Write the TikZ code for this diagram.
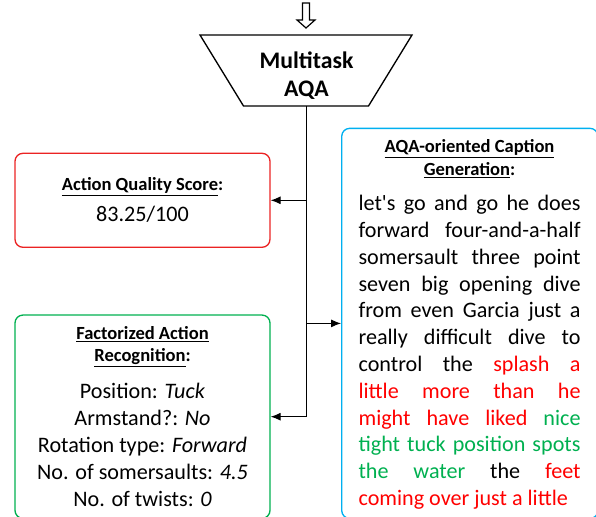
\documentclass[tikz,border=0pt]{standalone}
\usepackage{fontspec}
\setmainfont{Carlito}
\usetikzlibrary{arrows.meta}
\definecolor{boxred}{RGB}{235,35,35}
\definecolor{boxgreen}{RGB}{0,176,80}
\definecolor{boxblue}{RGB}{0,176,240}
\definecolor{txtred}{RGB}{255,0,0}
\definecolor{txtgreen}{RGB}{0,176,80}
\newcommand{\headfont}{\bfseries\fontsize{13.9}{17}\selectfont}
\newcommand{\bodyfont}{\fontsize{16.6}{20.1}\selectfont}
\newcommand{\rd}[1]{\textcolor{txtred}{#1}}
\newcommand{\gn}[1]{\textcolor{txtgreen}{#1}}

\begin{document}
\begin{tikzpicture}[x=0.75pt,y=-0.75pt,
    box/.style={draw,rounded corners=6pt,line width=1pt,minimum width=191.25pt},
    head/.style={anchor=base,align=center,font=\headfont},
    body/.style={anchor=base,align=center,font=\bodyfont},
    link/.style={-{Latex[length=7.5pt,width=6pt]},line width=0.75pt}]
    \useasboundingbox (0,0) rectangle (596,517);

    \draw[line width=0.9pt,fill=white] (302.5,3) -- (309.5,3) -- (309.5,20) -- (315,20) -- (306,28) -- (297,20) -- (302.5,20) -- cycle;
    \draw[line width=1pt,line join=miter] (200,35) -- (412,35) -- (368.5,106) -- (243.5,106) -- cycle;
    \coordinate (aqa) at (306.5,106);
    \node[anchor=base,align=center,font=\bfseries\fontsize{17.8}{21.3}\selectfont] (aqaT) at (306.5,96.7) {Multitask\\AQA};

    \node[box,draw=boxred,minimum height=70.5pt] (score) at (142.5,200.3) {};
    \node[head] (scoreT) at (142.5,190) {\underline{Action Quality Score}:};
    \node[body] (scoreV) at (142.5,221.7) {83.25/100};

    \node[box,draw=boxgreen,minimum height=152.5pt] (far) at (142.5,416.7) {};
    \node[head] (farT) at (142.5,361.7) {\underline{Factorized Action}\\\underline{Recognition}:};
    \node[body] (farV) at (142.5,506) {Position: \textit{Tuck}\\Armstand?: \textit{No}\\Rotation type: \textit{Forward}\\No. of somersaults: \textit{4.5}\\No. of twists: \textit{0}};

    \node[box,draw=boxblue,minimum width=192.2pt,minimum height=292.6pt] (cap) at (469.85,323.4) {};
    \node[head] (capT) at (469.5,175) {\underline{AQA-oriented Caption}\\\underline{Generation}:};
    \node[anchor=base west,inner sep=0pt,font=\bodyfont] (capV) at (358.3,210.7) {\parbox[t]{166.5pt}{\hyphenpenalty=10000\exhyphenpenalty=10000\tolerance=10000
        let\textquotesingle s go and go he does\linebreak
        forward four-and-a-half\linebreak
        somersault three point\linebreak
        seven big opening dive\linebreak
        from even Garcia just a\linebreak
        really difficult dive to\linebreak
        control the \rd{splash a}\linebreak
        \rd{little more than he}\linebreak
        \rd{might have liked} \gn{nice}\linebreak
        \gn{tight tuck position spots}\linebreak
        \gn{the water} the \rd{feet}\linebreak
        \rd{coming over just a little}\par}};

    \draw[link] (aqa) |- (far.east);
    \draw[link] (aqa |- score.east) -- (score.east);
    \draw[link] (aqa |- cap.west) -- (cap.west);
\end{tikzpicture}
\end{document}
